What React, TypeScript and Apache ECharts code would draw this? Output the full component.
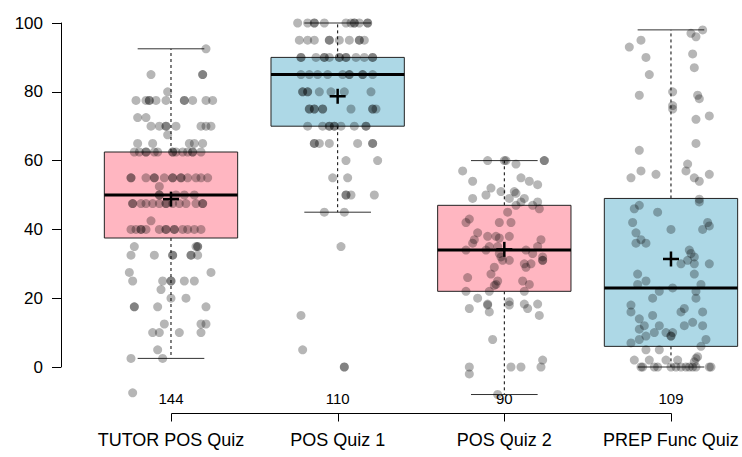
import React, { useEffect, useRef } from "react";
import * as echarts from "echarts";

const categories = ["TUTOR POS Quiz", "POS Quiz 1", "POS Quiz 2", "PREP Func Quiz"];
const counts = [144, 110, 90, 109];
const whiskerLow = [2.5, 45, -8, 0];
const q1 = [37.5, 70, 22, 6];
const median = [50, 85, 34, 23];
const q3 = [62.5, 90, 47, 49];
const whiskerHigh = [92.5, 100, 60, 98];
const means = [48.8, 78.7, 34.2, 31.4];
const yTicks = [0, 20, 40, 60, 80, 100];
const categoryPositions = [1, 2, 3, 4];

// [jitter offset from category centre, score]
const tutorPoints: [number, number][] = [
  [0.21, 92.5],
  [-0.12, 85], [0.19, 85], [0.19, 85],
  [-0.02, 80],
  [-0.21, 77.5], [-0.15, 77.5], [-0.13, 77.5], [-0.13, 77.5], [-0.09, 77.5], [-0.03, 77.5], [0.08, 77.5], [0.08, 77.5], [0.13, 77.5], [0.21, 77.5], [0.25, 77.5],
  [-0.2, 72.5], [-0.15, 72.5],
  [-0.12, 70], [-0.07, 70], [-0.03, 70], [-0.03, 70], [0.03, 70], [0.18, 70], [0.21, 70], [0.24, 70],
  [-0.02, 67.5],
  [-0.2, 65], [-0.11, 65], [0.11, 65], [0.14, 65], [0.19, 65],
  [-0.22, 62.5], [-0.19, 62.5], [-0.15, 62.5], [-0.15, 62.5], [-0.1, 62.5], [-0.08, 62.5], [0.01, 62.5], [0.01, 62.5], [0.03, 62.5], [0.07, 62.5], [0.1, 62.5], [0.13, 62.5], [0.13, 62.5], [0.18, 62.5],
  [-0.24, 55], [-0.24, 55], [-0.15, 55], [-0.1, 55], [-0.1, 55], [-0.04, 55], [0.01, 55], [0.01, 55], [0.06, 55], [0.06, 55], [0.1, 55], [0.15, 55], [0.18, 55], [0.22, 55],
  [-0.07, 52.5],
  [-0.07, 50], [-0.07, 50], [0.03, 50], [0.08, 50], [0.14, 50],
  [-0.23, 47.5], [-0.23, 47.5], [-0.18, 47.5], [-0.15, 47.5], [-0.11, 47.5], [-0.07, 47.5], [-0.03, 47.5], [-0.03, 47.5], [0.01, 47.5], [0.05, 47.5], [0.09, 47.5], [0.15, 47.5], [0.19, 47.5], [0.19, 47.5],
  [-0.12, 42.5],
  [-0.24, 40], [-0.21, 40], [-0.18, 40], [-0.18, 40], [-0.15, 40], [-0.07, 40], [-0.03, 40], [-0.03, 40], [0.02, 40], [0.02, 40], [0.07, 40], [0.1, 40], [0.14, 40], [0.18, 40],
  [-0.22, 35], [0.15, 35], [0.16, 35], [0.16, 35],
  [-0.24, 32.5], [-0.1, 32.5], [0.01, 32.5], [0.01, 32.5], [0.12, 32.5], [0.12, 32.5], [0.16, 32.5],
  [-0.25, 27.5], [0.24, 27.5],
  [-0.23, 25], [-0.05, 25], [0, 25], [0, 25], [0.08, 25], [0.14, 25],
  [-0.06, 22.5],
  [0, 20], [0.09, 20],
  [-0.22, 17.5], [-0.22, 17.5], [-0.08, 17.5], [0.21, 17.5],
  [-0.04, 12.5], [0.18, 12.5], [0.21, 12.5],
  [-0.11, 10], [-0.07, 10], [0.05, 10], [0.18, 10],
  [-0.08, 5],
  [-0.24, 2.5], [-0.05, 2.5],
  [-0.23, -7.5],
];

const pos1Points: [number, number][] = [
  [-0.24, 100], [-0.18, 100], [-0.14, 100], [-0.14, 100], [-0.08, 100], [0.05, 100], [0.08, 100], [0.1, 100], [0.1, 100], [0.13, 100], [0.18, 100], [0.18, 100],
  [-0.23, 95], [-0.18, 95], [-0.14, 95], [-0.05, 95], [-0.05, 95], [0.01, 95], [0.07, 95], [0.13, 95], [0.13, 95], [0.16, 95],
  [-0.22, 90], [-0.22, 90], [-0.13, 90], [-0.08, 90], [-0.08, 90], [-0.05, 90], [0.01, 90], [0.01, 90], [0.05, 90], [0.05, 90], [0.11, 90], [0.16, 90], [0.21, 90], [0.21, 90],
  [-0.22, 85], [-0.17, 85], [-0.12, 85], [-0.06, 85], [0.03, 85], [0.07, 85], [0.07, 85], [0.15, 85], [0.15, 85], [0.21, 85],
  [-0.21, 80], [-0.21, 80], [-0.18, 80], [-0.18, 80], [-0.11, 80], [-0.04, 80], [0.04, 80], [0.2, 80],
  [-0.17, 75], [-0.17, 75], [-0.14, 75], [-0.14, 75], [-0.09, 75], [-0.09, 75], [0.08, 75], [0.21, 75], [0.21, 75], [0.23, 75],
  [-0.18, 70], [-0.09, 70], [-0.05, 70], [-0.05, 70], [-0.02, 70], [-0.02, 70], [0.02, 70], [0.1, 70], [0.17, 70], [0.17, 70],
  [-0.14, 65], [-0.14, 65], [-0.11, 65], [-0.05, 65], [0.12, 65], [0.21, 65], [0.21, 65],
  [0.05, 60], [0.24, 60],
  [-0.03, 55], [0.06, 55],
  [0.05, 50], [0.05, 50], [0.08, 50], [0.22, 50],
  [-0.08, 45], [0.04, 45],
  [0.02, 35], [-0.22, 15], [-0.21, 5], [0.04, 0], [0.04, 0],
];

const pos2Points: [number, number][] = [
  [-0.1, 60], [0, 60], [0.01, 60], [0.24, 60], [0.24, 60],
  [-0.25, 57], [0.07, 59],
  [-0.19, 54], [0.1, 55], [0.15, 54], [0.2, 53],
  [-0.08, 52], [-0.11, 50], [-0.02, 51], [0.06, 51], [0.07, 50.5],
  [-0.19, 49], [0.03, 49], [0.12, 49], [0.2, 48], [0.07, 47], [0.1, 48], [0.17, 47], [0.21, 46],
  [0.02, 45],
  [-0.21, 43], [-0.23, 42], [-0.03, 42], [0.04, 42],
  [-0.16, 39], [-0.1, 38], [-0.05, 38], [-0.03, 37.5], [0.03, 38],
  [0.22, 37], [-0.18, 37], [-0.19, 36],
  [-0.09, 35], [-0.04, 35], [0.2, 35],
  [-0.23, 34], [-0.11, 34], [0.13, 34], [0.17, 33],
  [-0.03, 33], [-0.02, 32],
  [0.23, 32], [0.23, 31], [0.23, 31],
  [-0.01, 31], [0.03, 31],
  [0.12, 30], [0.13, 29], [0.16, 30],
  [-0.06, 29], [-0.08, 27],
  [-0.22, 26],
  [0.11, 25], [0.15, 24],
  [-0.04, 25], [-0.06, 23.7], [-0.05, 24],
  [-0.23, 22], [-0.09, 22], [0.12, 22],
  [-0.16, 20],
  [-0.1, 18.3], [-0.1, 18], [0.03, 19], [0.03, 18], [0.12, 18.3], [0.2, 18.3], [0.14, 17], [0.21, 15],
  [-0.21, 17], [-0.09, 16],
  [-0.07, 8],
  [-0.21, 0], [-0.21, -2],
  [0.04, 0], [0.1, 0],
  [0.23, 2], [0.22, 0],
  [-0.04, -8],
];

const prepPoints: [number, number][] = [
  [0.19, 98], [0.12, 97], [0.15, 96], [-0.18, 95], [-0.25, 93], [0.13, 91], [-0.15, 90], [0.14, 87], [-0.13, 85],
  [0.01, 80], [-0.19, 79], [0.16, 79], [0.17, 78], [0.01, 76], [0.01, 75], [0.15, 72], [0.23, 73],
  [0.15, 65], [-0.19, 63], [0.1, 59], [0.09, 57], [-0.18, 57], [-0.24, 55], [-0.09, 56], [0.14, 55], [0.17, 54], [0.23, 56],
  [0.17, 48.8], [0.17, 48], [-0.22, 46], [-0.19, 47], [-0.08, 45],
  [0.22, 42], [0.23, 41], [0.19, 40], [-0.23, 42], [0, 40], [-0.21, 39], [-0.18, 37], [-0.15, 36], [-0.21, 36],
  [0.11, 34], [0.12, 33], [0.14, 32], [0.1, 31], [0.06, 30], [0.14, 30], [0.23, 30],
  [-0.2, 27], [-0.15, 25], [-0.2, 24], [0.14, 27], [0.18, 24], [0.01, 23], [-0.07, 22], [0.15, 22], [0.15, 20], [-0.11, 20],
  [-0.24, 18], [-0.24, 16], [0.08, 17], [0.06, 16], [0.19, 16], [-0.11, 15],
  [-0.19, 14], [-0.16, 12], [-0.19, 11], [-0.07, 12], [0.08, 12], [0.13, 13], [0.19, 12],
  [-0.03, 10], [0.01, 10], [0, 9], [0, 9], [-0.1, 10], [-0.15, 9], [-0.19, 8], [-0.24, 7], [0.21, 8], [0.18, 6],
  [-0.15, 5], [-0.07, 5], [0.16, 3], [0.15, 2.5], [-0.22, 2], [-0.13, 2], [-0.03, 2], [0.04, 2], [0.14, 1.5],
  [-0.18, 0], [-0.17, 0], [-0.1, 0], [-0.08, 0], [0, 0], [0.03, 0], [0.06, 0], [0.09, 0], [0.11, 0], [0.13, 0], [0.15, 0], [0.23, 0], [0.24, 0],
];

const groupPoints = [tutorPoints, pos1Points, pos2Points, prepPoints];
const boxColors = ["#FFB6C1", "#ADD8E6", "#FFB6C1", "#ADD8E6"];

const FONT = "'Liberation Sans', Arial, Helvetica, sans-serif";
const X_MIN = 0.34;
const X_MAX = 4.41;

export default function App() {
  const ref = useRef<HTMLDivElement>(null);

  useEffect(() => {
    if (!ref.current) return;
    const chart = echarts.init(ref.current, undefined, { renderer: "svg" });

    const boxData = categories.map((_, i) => [
      categoryPositions[i],
      whiskerLow[i],
      q1[i],
      median[i],
      q3[i],
      whiskerHigh[i],
    ]);
    const meanData = categories.map((_, i) => [categoryPositions[i], means[i]]);
    const scatterData: number[][] = [];
    groupPoints.forEach((pts, i) => {
      pts.forEach(([j, v]) => scatterData.push([categoryPositions[i] + j, v]));
    });
    const bracketData = categoryPositions.map((p) => [p, categoryPositions[0], categoryPositions[categoryPositions.length - 1]]);

    const option: any = {
      animation: false,
      grid: { left: 61, right: 0, top: 23, bottom: 90, containLabel: false },
      xAxis: [
        {
          type: "value",
          min: X_MIN,
          max: X_MAX,
          position: "bottom",
          offset: 46,
          axisLine: { show: false },
          splitLine: { show: false },
          axisTick: { show: false },
          axisLabel: {
            show: true,
            customValues: categoryPositions,
            margin: 18,
            color: "#000",
            fontSize: 18,
            fontFamily: FONT,
            formatter: (v: number) => categories[Math.round(v) - 1] ?? "",
          },
        },
        {
          type: "value",
          min: X_MIN,
          max: X_MAX,
          position: "bottom",
          offset: 22,
          axisLine: { show: false },
          splitLine: { show: false },
          axisTick: { show: false },
          axisLabel: {
            show: true,
            customValues: categoryPositions,
            margin: 2,
            color: "#000",
            fontSize: 15,
            fontFamily: FONT,
            formatter: (v: number) => String(counts[Math.round(v) - 1] ?? ""),
          },
        },
      ],
      yAxis: {
        type: "value",
        min: 0,
        max: 100,
        interval: 20,
        axisLine: { show: true, lineStyle: { color: "#000", width: 1 } },
        axisTick: { show: true, length: 9, lineStyle: { color: "#000", width: 1 } },
        splitLine: { show: false },
        axisLabel: {
          color: "#000",
          fontSize: 17,
          fontFamily: FONT,
          margin: 18,
          customValues: yTicks,
        },
      },
      series: [
        {
          type: "custom",
          name: "boxes",
          xAxisIndex: 0,
          clip: false,
          z: 2,
          data: boxData,
          renderItem: (params: any, api: any) => {
            const x = api.value(0);
            const lo = api.coord([x, api.value(1)]);
            const b1 = api.coord([x, api.value(2)]);
            const md = api.coord([x, api.value(3)]);
            const b3 = api.coord([x, api.value(4)]);
            const hi = api.coord([x, api.value(5)]);
            const w = api.size([0.8, 0])[0];
            const cx = lo[0];
            const idx = params.dataIndex;
            return {
              type: "group",
              children: [
                {
                  type: "line",
                  shape: { x1: cx, y1: b3[1], x2: cx, y2: hi[1] },
                  style: { stroke: "#000", lineWidth: 1, lineDash: [3, 3] },
                },
                {
                  type: "line",
                  shape: { x1: cx, y1: b1[1], x2: cx, y2: lo[1] },
                  style: { stroke: "#000", lineWidth: 1, lineDash: [3, 3] },
                },
                {
                  type: "line",
                  shape: { x1: cx - w / 4, y1: hi[1], x2: cx + w / 4, y2: hi[1] },
                  style: { stroke: "#333", lineWidth: 1 },
                },
                {
                  type: "line",
                  shape: { x1: cx - w / 4, y1: lo[1], x2: cx + w / 4, y2: lo[1] },
                  style: { stroke: "#333", lineWidth: 1 },
                },
                {
                  type: "rect",
                  shape: { x: cx - w / 2, y: b3[1], width: w, height: b1[1] - b3[1] },
                  style: { fill: boxColors[idx], stroke: "#222", lineWidth: 1 },
                },
                {
                  type: "line",
                  shape: { x1: cx - w / 2, y1: md[1], x2: cx + w / 2, y2: md[1] },
                  style: { stroke: "#000", lineWidth: 3 },
                },
              ],
            };
          },
        },
        {
          type: "scatter",
          name: "points",
          xAxisIndex: 0,
          clip: false,
          z: 3,
          symbol: "circle",
          symbolSize: 9,
          itemStyle: { color: "rgba(0,0,0,0.36)", borderWidth: 0 },
          data: scatterData,
        },
        {
          type: "custom",
          name: "means",
          xAxisIndex: 0,
          clip: false,
          z: 4,
          data: meanData,
          renderItem: (params: any, api: any) => {
            const p = api.coord([api.value(0), api.value(1)]);
            return {
              type: "group",
              children: [
                {
                  type: "line",
                  shape: { x1: p[0] - 8, y1: p[1], x2: p[0] + 8, y2: p[1] },
                  style: { stroke: "#000", lineWidth: 2.5 },
                },
                {
                  type: "line",
                  shape: { x1: p[0], y1: p[1] - 7.5, x2: p[0], y2: p[1] + 7.5 },
                  style: { stroke: "#000", lineWidth: 2.5 },
                },
              ],
            };
          },
        },
        {
          type: "custom",
          name: "bracket",
          xAxisIndex: 0,
          clip: false,
          z: 2,
          data: bracketData,
          renderItem: (params: any, api: any) => {
            const t = api.coord([api.value(0), 0]);
            const y = Math.round(t[1] + 46) + 0.5;
            const tx = Math.round(t[0]) + 0.5;
            const children: any[] = [
              {
                type: "line",
                shape: { x1: tx, y1: y, x2: tx, y2: y + 8 },
                style: { stroke: "#000", lineWidth: 1 },
              },
            ];
            if (params.dataIndex === 0) {
              const a = api.coord([api.value(1), 0]);
              const b = api.coord([api.value(2), 0]);
              children.push({
                type: "line",
                shape: { x1: Math.round(a[0]) + 0.5, y1: y, x2: Math.round(b[0]) + 0.5, y2: y },
                style: { stroke: "#000", lineWidth: 1 },
              });
            }
            return { type: "group", children };
          },
        },
      ],
    };

    chart.setOption(option);
    return () => chart.dispose();
  }, []);

  return (
    <div
      ref={ref}
      style={{ position: "fixed", left: 0, top: 0, width: 742, height: 457, background: "#fff" }}
    />
  );
}
